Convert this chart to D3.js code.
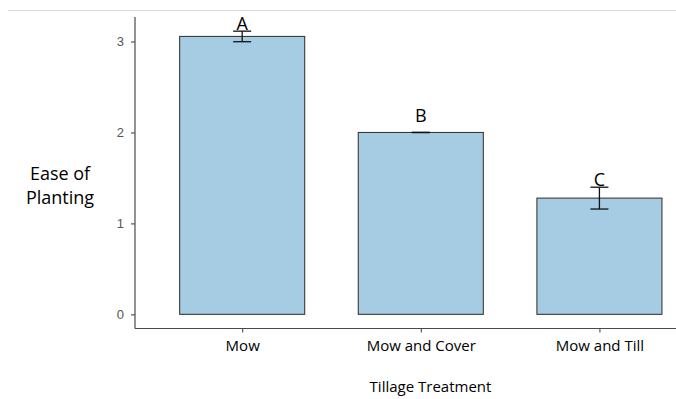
<!DOCTYPE html>
<html>
<head>
<meta charset="utf-8">
<script src="https://cdn.jsdelivr.net/npm/d3@7"></script>
<style>
  html, body { margin: 0; padding: 0; background: #fff; }
  svg { display: block; }
</style>
</head>
<body>
<svg id="chart" width="676" height="399"></svg>
<script>
const categories = ["Mow", "Mow and Cover", "Mow and Till"];
const means = [3.056, 2.0, 1.278];
const errors = [0.058, 0.0, 0.12];
const groupLetters = ["A", "B", "C"];
const letterValues = [3.13, 2.11, 1.41];
const yTicks = [0, 1, 2, 3];
const xTitle = "Tillage Treatment";
const yTitleLines = ["Ease of", "Planting"];

const svg = d3.select("#chart");
const W = 676, H = 399;

// top divider line
svg.append("line")
  .attr("x1", 8).attr("x2", W).attr("y1", 10.5).attr("y2", 10.5)
  .attr("stroke", "#d9d9d9").attr("stroke-width", 1);

const panel = { left: 135, right: 706.6, top: 17, bottom: 328.5 };

const maxUpper = d3.max(means.map((m, i) => m + errors[i]));
const y = d3.scaleLinear()
  .domain([-0.05 * maxUpper, maxUpper * 1.05])
  .range([panel.bottom, panel.top]);

const x = d3.scalePoint()
  .domain(categories)
  .range([panel.left, panel.right])
  .padding(0.6);
const step = x.step();
const barW = step * 0.7;
const capW = 18;

// bars
svg.append("g").selectAll("rect")
  .data(categories)
  .join("rect")
  .attr("x", d => x(d) - barW / 2)
  .attr("y", (d, i) => y(means[i]))
  .attr("width", barW)
  .attr("height", (d, i) => y(0) - y(means[i]))
  .attr("fill", "#a6cce4")
  .attr("stroke", "#3a3a3a")
  .attr("stroke-width", 1.1);

// error bars
const eb = svg.append("g").attr("stroke", "#111").attr("stroke-width", 1.3).attr("fill", "none");
categories.forEach((c, i) => {
  const cx = x(c);
  const hi = y(means[i] + errors[i]), lo = y(means[i] - errors[i]);
  eb.append("line").attr("x1", cx).attr("x2", cx).attr("y1", hi).attr("y2", lo);
  eb.append("line").attr("x1", cx - capW / 2).attr("x2", cx + capW / 2).attr("y1", hi).attr("y2", hi);
  eb.append("line").attr("x1", cx - capW / 2).attr("x2", cx + capW / 2).attr("y1", lo).attr("y2", lo);
});

// group letters
svg.append("g").selectAll("text")
  .data(groupLetters)
  .join("text")
  .attr("x", (d, i) => x(categories[i]))
  .attr("y", (d, i) => y(letterValues[i]))
  .attr("text-anchor", "middle")
  .attr("font-family", "'Open Sans', sans-serif")
  .attr("font-size", 18)
  .attr("fill", "#000")
  .text(d => d);

// y axis
const yAxis = d3.axisLeft(y).tickValues(yTicks).tickSize(4).tickPadding(7).tickFormat(d3.format("d"));
const gy = svg.append("g").attr("transform", `translate(${panel.left},0)`).call(yAxis);
gy.select(".domain").remove();
gy.append("line").attr("x1", 0).attr("x2", 0).attr("y1", panel.top).attr("y2", panel.bottom)
  .attr("stroke", "#4a4a4a").attr("stroke-width", 1.2);
gy.selectAll(".tick line").attr("stroke", "#4a4a4a").attr("stroke-width", 1.1);
gy.selectAll(".tick text")
  .attr("font-family", "'Liberation Sans', Arial, sans-serif")
  .attr("font-size", 13)
  .attr("fill", "#555");

// x axis
const xAxis = d3.axisBottom(x).tickSize(4).tickPadding(8);
const gx = svg.append("g").attr("transform", `translate(0,${panel.bottom})`).call(xAxis);
gx.select(".domain").remove();
gx.append("line").attr("x1", panel.left).attr("x2", W).attr("y1", 0).attr("y2", 0)
  .attr("stroke", "#4a4a4a").attr("stroke-width", 1.2);
gx.selectAll(".tick line").attr("stroke", "#4a4a4a").attr("stroke-width", 1.1);
gx.selectAll(".tick text")
  .attr("font-family", "'Open Sans', sans-serif")
  .attr("font-size", 15)
  .attr("fill", "#000");

// x title
svg.append("text")
  .attr("x", 430.5).attr("y", 392)
  .attr("text-anchor", "middle")
  .attr("font-family", "'Open Sans', sans-serif")
  .attr("font-size", 15)
  .attr("fill", "#000")
  .text(xTitle);

// y title
svg.append("g").selectAll("text")
  .data(yTitleLines)
  .join("text")
  .attr("x", 60)
  .attr("y", (d, i) => 179.5 + i * 24)
  .attr("text-anchor", "middle")
  .attr("font-family", "'Open Sans', sans-serif")
  .attr("font-size", 18)
  .attr("fill", "#000")
  .text(d => d);
</script>
</body>
</html>
